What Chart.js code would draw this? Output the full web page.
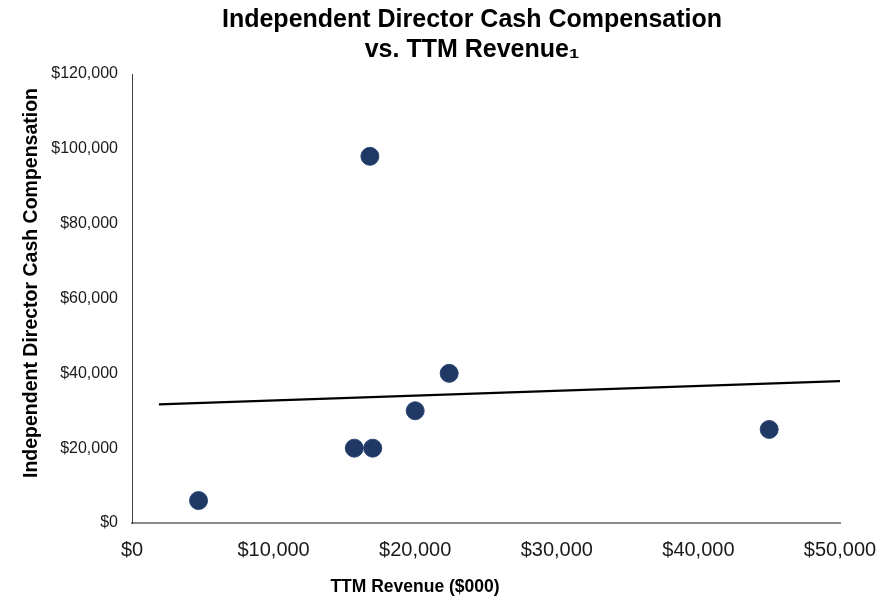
<!DOCTYPE html>
<html>
<head>
<meta charset="utf-8">
<script src="https://cdn.jsdelivr.net/npm/chart.js@4"></script>
<style>
  body { margin: 0; background: #fff; }
  #wrap { width: 894px; height: 603px; }
</style>
</head>
<body>
<div id="wrap"><canvas id="compChart" width="894" height="603"></canvas></div>
<script>
// TTM revenue ($000) and director cash compensation
const revenue = [4700, 15700, 17000, 20000, 22400, 45000, 16800];
const compensation = [6000, 20000, 20000, 30000, 40000, 25000, 98000];

// trend line end points as drawn
const trendX = [1900, 50000];
const trendY = [31700, 37900];

const xTicks = [0, 10000, 20000, 30000, 40000, 50000];
const yTicks = [0, 20000, 40000, 60000, 80000, 100000, 120000];

const titleLines = ['Independent Director Cash Compensation', 'vs. TTM Revenue\u2081'];
const xTitle = 'TTM Revenue ($000)';
const yTitle = 'Independent Director Cash Compensation';

const money = v => '$' + Number(v).toLocaleString('en-US');
const FONT = 'Liberation Sans, Arial, sans-serif';

// titles sit off the plot centre in the original, so draw them by hand
const titlePlugin = {
    id: 'offsetTitles',
    afterDraw(chart) {
        const c = chart.ctx;
        c.save();
        c.fillStyle = '#000';
        c.textAlign = 'center';
        c.textBaseline = 'alphabetic';
        c.font = 'bold 25px ' + FONT;
        c.fillText(titleLines[0], 472, 27);
        c.fillText(titleLines[1], 472, 57);
        c.textBaseline = 'middle';
        c.font = 'bold 17.5px ' + FONT;
        c.fillText(xTitle, 415, 587);
        c.translate(32, 283);
        c.rotate(-Math.PI / 2);
        c.font = 'bold 19.5px ' + FONT;
        c.fillText(yTitle, 0, 0);
        c.restore();
    }
};

const ctx = document.getElementById('compChart').getContext('2d');
const compChart = new Chart(ctx, {
    type: 'scatter',
    data: {
        datasets: [{
            label: 'Companies',
            data: revenue.map((x, i) => ({ x: x, y: compensation[i] })),
            backgroundColor: '#1F3864',
            borderColor: '#2A4675',
            borderWidth: 1,
            pointRadius: 9,
            pointHoverRadius: 9,
            order: 1
        }, {
            label: 'Trend',
            type: 'line',
            data: trendX.map((x, i) => ({ x: x, y: trendY[i] })),
            borderColor: '#000',
            borderWidth: 2.2,
            pointRadius: 0,
            fill: false,
            order: 2
        }]
    },
    plugins: [titlePlugin],
    options: {
        responsive: false,
        animation: false,
        layout: { padding: { top: 74, right: 54, bottom: 0, left: 8 } },
        plugins: {
            legend: { display: false },
            tooltip: { enabled: false },
            title: { display: false }
        },
        scales: {
            x: {
                type: 'linear',
                min: 0,
                max: 50000,
                afterBuildTicks: axis => { axis.ticks = xTicks.map(v => ({ value: v })); },
                afterFit: axis => { axis.height = 80; },
                grid: { display: false },
                border: { display: true, color: '#8a8a8a', width: 2 },
                ticks: {
                    callback: money,
                    color: '#1a1a1a',
                    padding: 7,
                    maxRotation: 0,
                    font: { family: FONT, size: 20 }
                },
                title: { display: false }
            },
            y: {
                type: 'linear',
                min: 0,
                max: 120000,
                afterBuildTicks: axis => { axis.ticks = yTicks.map(v => ({ value: v })); },
                afterFit: axis => { axis.width = 124; },
                grid: { display: false },
                border: { display: true, color: '#404040', width: 1 },
                ticks: {
                    callback: money,
                    color: '#1a1a1a',
                    padding: 6,
                    font: { family: FONT, size: 16 }
                },
                title: { display: false }
            }
        }
    }
});
</script>
</body>
</html>
